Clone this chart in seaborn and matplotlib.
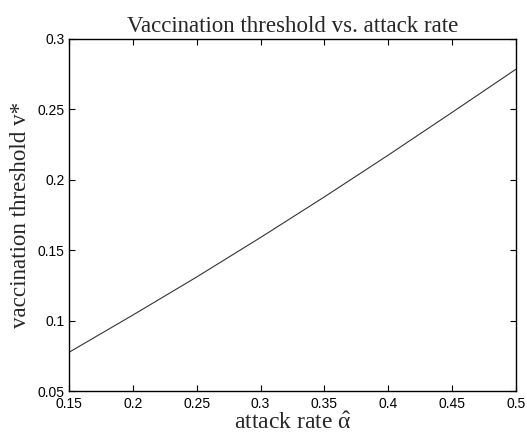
import matplotlib
matplotlib.use("Agg")
import matplotlib.pyplot as plt
import seaborn as sns
import pandas as pd

# attack rate alpha-hat and the resulting vaccination threshold v*
attack_rate = [0.15, 0.20, 0.25, 0.30, 0.35, 0.40, 0.45, 0.50]
threshold = [0.0776, 0.1040, 0.1310, 0.1590, 0.1878, 0.2174, 0.2477, 0.2783]

x_ticks = [0.15, 0.2, 0.25, 0.3, 0.35, 0.4, 0.45, 0.5]
x_tick_labels = ["0.15", "0.2", "0.25", "0.3", "0.35", "0.4", "0.45", "0.5"]
y_ticks = [0.05, 0.1, 0.15, 0.2, 0.25, 0.3]
y_tick_labels = ["0.05", "0.1", "0.15", "0.2", "0.25", "0.3"]

sns.set_style("ticks")
plt.rcParams["font.family"] = ["Liberation Sans", "DejaVu Sans"]
plt.rcParams["mathtext.fontset"] = "custom"
plt.rcParams["mathtext.rm"] = "Liberation Serif"
plt.rcParams["mathtext.it"] = "Liberation Serif"

df = pd.DataFrame({"attack_rate": attack_rate, "threshold": threshold})

fig = plt.figure(figsize=(5.27, 4.34), dpi=100)
ax = fig.add_axes([0.131, 0.0986, 0.848, 0.8124])

sns.lineplot(data=df, x="attack_rate", y="threshold", ax=ax,
             color="#333333", linewidth=0.8)

ax.set_xlim(0.15, 0.5)
ax.set_ylim(0.05, 0.3)
ax.set_xticks(x_ticks)
ax.set_xticklabels(x_tick_labels)
ax.set_yticks(y_ticks)
ax.set_yticklabels(y_tick_labels)
ax.tick_params(direction="in", top=True, right=True, length=4, width=0.8,
               labelsize=10, colors="black")
ax.tick_params(axis="x", pad=4)
ax.tick_params(axis="y", pad=3)
for s in ax.spines.values():
    s.set_visible(True)
    s.set_linewidth(1.0)
    s.set_color("black")

serif = ["Liberation Serif", "DejaVu Serif"]
ax.set_title("Vaccination threshold vs. attack rate", family=serif,
             fontsize=16.5, pad=5)
ax.set_xlabel(r"attack rate $\hat{\alpha}$", family=serif, fontsize=17,
              labelpad=1)
ax.set_ylabel("vaccination threshold v*", family=serif, fontsize=16.6,
              labelpad=5)

fig.savefig("out.png", dpi=100, facecolor="white")
